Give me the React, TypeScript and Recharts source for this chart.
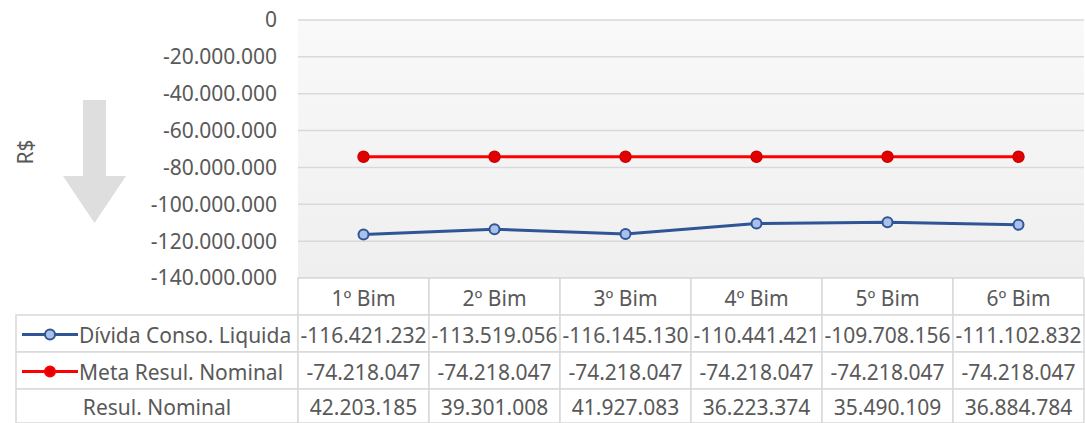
import React from "react";
import { LineChart, Line, XAxis, YAxis, CartesianGrid } from "recharts";

const CATEGORIES = ["1º Bim", "2º Bim", "3º Bim", "4º Bim", "5º Bim", "6º Bim"];
const DIVIDA = [-116421232, -113519056, -116145130, -110441421, -109708156, -111102832];
const META = [-74218047, -74218047, -74218047, -74218047, -74218047, -74218047];
const RESUL = [42203185, 39301008, 41927083, 36223374, 35490109, 36884784];
const Y_TICKS = [0, -20000000, -40000000, -60000000, -80000000, -100000000, -120000000, -140000000];

const data = CATEGORIES.map((name, i) => ({
  name,
  divida: DIVIDA[i],
  meta: META[i],
  resul: RESUL[i],
}));

const W = 1085;
const H = 423;
const PLOT_LEFT = 298;
const PLOT_RIGHT = 1084;
const BAND = (PLOT_RIGHT - PLOT_LEFT) / CATEGORIES.length;
const ROW = [0, 37, 74, 111, 145];

const TEXT = "#595959";
const GRID = "#d9d9d9";
const BLUE = "#2f5597";
const BLUE_FILL = "#a9c1e8";
const RED = "#ff0000";
const FONT = "'Noto Sans', sans-serif";
const FS = 21;

const fmt = (v: number) => {
  const s = Math.abs(v).toString().replace(/\B(?=(\d{3})+(?!\d))/g, ".");
  return (v < 0 ? "-" : "") + s;
};

// each x tick draws one column of the data table under the plot
function TableColumn(props: any) {
  const { x, y, payload } = props;
  const i = CATEGORIES.indexOf(payload.value);
  const left = x - BAND / 2;
  const cells = [payload.value, fmt(DIVIDA[i]), fmt(META[i]), fmt(RESUL[i])];
  return (
    <g>
      {cells.map((c, r) => (
        <g key={r}>
          <rect
            x={left}
            y={y + ROW[r]}
            width={BAND}
            height={ROW[r + 1] - ROW[r]}
            fill="#fff"
            stroke={GRID}
            strokeWidth={1.5}
          />
          <text
            x={x}
            y={y + (ROW[r] + ROW[r + 1]) / 2 + 1}
            textAnchor="middle"
            dominantBaseline="central"
            fill={TEXT}
            fontSize={FS}
            fontFamily={FONT}
          >
            {c}
          </text>
        </g>
      ))}
    </g>
  );
}

function LegendColumn() {
  const top = 278;
  const rows = [
    { label: "Dívida Conso. Liquida", color: BLUE, fill: BLUE_FILL, icon: true },
    { label: "Meta Resul. Nominal", color: RED, fill: "#e00000", icon: true },
    { label: "Resul. Nominal", color: "", fill: "", icon: false },
  ];
  return (
    <g>
      {rows.map((r, k) => {
        const y0 = top + ROW[k + 1];
        const y1 = top + ROW[k + 2];
        const cy = (y0 + y1) / 2 + 1;
        return (
          <g key={k}>
            <rect x={16} y={y0} width={PLOT_LEFT - 16} height={y1 - y0} fill="#fff" stroke={GRID} strokeWidth={1.5} />
            {r.icon && (
              <g>
                <line x1={22} x2={78} y1={cy} y2={cy} stroke={r.color} strokeWidth={3} />
                <circle cx={50} cy={cy} r={5} fill={r.fill} stroke={r.color} strokeWidth={2} />
              </g>
            )}
            <text
              x={r.icon ? 79 : 157}
              y={cy}
              textAnchor={r.icon ? "start" : "middle"}
              dominantBaseline="central"
              fill={TEXT}
              fontSize={FS}
              fontFamily={FONT}
            >
              {r.label}
            </text>
          </g>
        );
      })}
    </g>
  );
}

export default function App() {
  return (
    <div style={{ position: "absolute", left: 0, top: 0, width: W, height: H, background: "#fff" }}>
      <LineChart width={W} height={H} data={data} margin={{ top: 20, right: W - PLOT_RIGHT, left: PLOT_LEFT - 100, bottom: 0 }}>
        <defs>
          <linearGradient id="plotBg" x1="0" y1="0" x2="0" y2="1">
            <stop offset="0%" stopColor="#f9f9f9" />
            <stop offset="100%" stopColor="#efefef" />
          </linearGradient>
        </defs>
        <CartesianGrid vertical={false} stroke={GRID} strokeWidth={1.5} fill="url(#plotBg)" />
        <XAxis
          dataKey="name"
          height={145}
          axisLine={false}
          tickLine={false}
          tickSize={0}
          tickMargin={0}
          padding={{ left: BAND / 2, right: BAND / 2 }}
          interval={0}
          tick={<TableColumn />}
        />
        <YAxis
          width={100}
          domain={[-140000000, 0]}
          ticks={Y_TICKS}
          axisLine={false}
          tickLine={false}
          tickSize={0}
          tickMargin={21}
          tickFormatter={fmt}
          tick={{ fill: TEXT, fontSize: FS, fontFamily: FONT }}
          interval={0}
        />
        <Line
          dataKey="meta"
          stroke={RED}
          strokeWidth={3}
          dot={{ r: 5.5, fill: "#e00000", stroke: "#d00000", strokeWidth: 1.5 }}
          isAnimationActive={false}
        />
        <Line
          dataKey="divida"
          stroke={BLUE}
          strokeWidth={3}
          dot={{ r: 5, fill: BLUE_FILL, stroke: BLUE, strokeWidth: 2 }}
          isAnimationActive={false}
        />
        <polygon points="83,100 106,100 106,176 126,176 94.5,223 63,176 83,176" fill="#dedede" />
        <text
          x={25}
          y={152}
          transform="rotate(-90 25 152)"
          textAnchor="middle"
          dominantBaseline="central"
          fill={TEXT}
          fontSize={FS}
          fontFamily={FONT}
        >
          R$
        </text>
        <LegendColumn />
      </LineChart>
    </div>
  );
}
